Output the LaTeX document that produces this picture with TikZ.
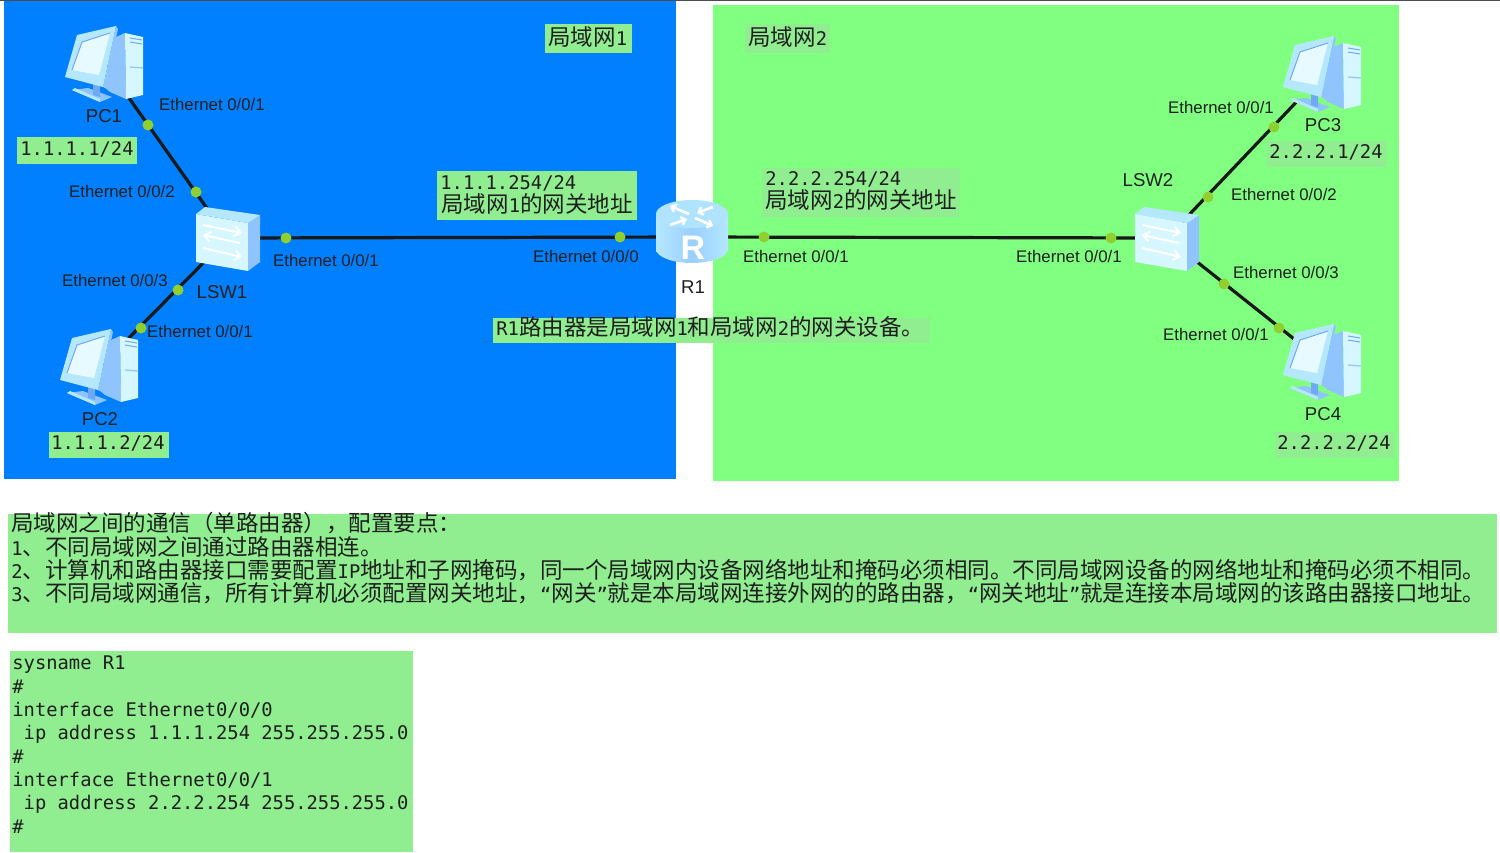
\documentclass[tikz,border=0pt]{standalone}
\usepackage{fontspec}
\setmainfont{Liberation Sans}
\newfontfamily\cjkf{Noto Sans CJK SC}
\newfontfamily\monof{DejaVu Sans Mono}
\usetikzlibrary{arrows.meta}
\newcommand\zhf{\cjkf\fontsize{11.25}{13}\selectfont}
\newcommand\mtxt[1]{{\monof\fontsize{9.4}{11}\selectfont #1}}
\definecolor{lanblue}{HTML}{0080FF}
\definecolor{langreen}{HTML}{80FF80}
\definecolor{notegreen}{HTML}{90EE90}
\definecolor{portdot}{HTML}{8FD030}
\definecolor{iconlight}{HTML}{D6F7FF}
\definecolor{iconmid}{HTML}{8FC4FF}
\definecolor{iconpale}{HTML}{B5E8FF}
\definecolor{iconedge}{HTML}{6FA8F5}
\tikzset{
  x=0.5pt,y=-0.5pt,
  devbox/.style={inner sep=0,minimum size=20pt},
  link/.style={draw=black!90,line width=1.6pt},
  portdotn/.style={circle,fill=portdot,inner sep=0,minimum size=5.5pt},
  eth/.style={inner sep=0,font=\fontsize{8.4}{10}\selectfont,text=black!88},
  devname/.style={inner sep=0,font=\fontsize{9.3}{11}\selectfont,text=black!88},
  zhtxt/.style={inner sep=0,anchor=base west,font=\zhf,text=black!88},
  monotxt/.style={inner sep=0,anchor=base west,font=\monof\fontsize{9.4}{11}\selectfont,text=black!88},
  pccomp/.pic={
    \fill[iconmid] (-33,26)--(-5,38)--(7,33)--(-17,24)--cycle;
    \fill[iconpale] (-33,26)--(-5,38)--(-5,35)--(-30,24)--cycle;
    \fill[iconedge] (-12,18)--(-5,18)--(-5,33)--(-12,31)--cycle;
    \fill[iconmid] (11,-27)--(20,-31)--(21,35)--(5,28)--(-1,23)--cycle;
    \fill[iconlight] (20,-31)--(38,-27)--(38,31)--(21,35)--cycle;
    \draw[iconedge,line width=0.5pt] (25,-26)--(37,-24) (25,-22)--(37,-20);
    \draw[iconmid,line width=0.6pt] (25,3)--(38,4);
    \fill[iconmid] (11,-38)--(13,-35)--(0,24)--(-2,23)--cycle;
    \fill[iconpale] (-40,13)--(-28,-29)--(11,-38)--(-2,23)--cycle;
    \fill[iconlight!60!white] (-33,6)--(-23,-22)--(5,-31)--(-6,11)--cycle;
    \draw[iconedge,line width=0.5pt] (-33,6)--(-23,-22)--(5,-31);
  },
  swcomp/.pic={
    \fill[iconlight] (-32,-24)--(20,-15)--(20,33)--(-32,24)--cycle;
    \fill[iconmid] (20,-15)--(32,-23)--(32,24)--(20,33)--cycle;
    \fill[iconpale] (-32,-24)--(-23,-31)--(32,-23)--(20,-15)--cycle;
    \draw[white,line width=1pt,-{Straight Barb[length=3pt,width=5pt]}] (-25,-13)--(14,-5);
    \draw[white,line width=1pt,-{Straight Barb[length=3pt,width=5pt]}] (12,5)--(-25,-3);
    \draw[white,line width=1pt,-{Straight Barb[length=3pt,width=5pt]}] (-25,10)--(14,19);
  },
  rtcomp/.pic={
    \shade[left color=iconpale,right color=iconpale,middle color=iconmid!70!iconpale] (-36,-23) rectangle (36,12);
    \shade[left color=iconpale,right color=iconpale,middle color=iconmid!70!iconpale] (0,12) ellipse [x radius=36,y radius=14];
    \fill[iconpale!85!iconmid] (0,-23) ellipse [x radius=36,y radius=14];
    \draw[white,line width=1.3pt,-{Straight Barb[length=2pt,width=4pt]}] (-3,-23)--(-22,-31);
    \draw[white,line width=1.3pt,-{Straight Barb[length=2pt,width=4pt]}] (-22,-12)--(-5,-18);
    \draw[white,line width=1.3pt,-{Straight Barb[length=2pt,width=4pt]}] (3,-19)--(21,-11);
    \draw[white,line width=1.3pt,-{Straight Barb[length=2pt,width=4pt]}] (21,-30)--(5,-24);
    \node[inner sep=0,text=white,font=\bfseries\fontsize{17}{19}\selectfont] at (1,11) {R};
  }
}
\begin{document}
\begin{tikzpicture}
\useasboundingbox (0,0) rectangle (1500,852);
\fill[white] (0,0) rectangle (1500,852);
\draw[black!70,line width=0.7pt] (0,0)--(1500,0);
% LAN areas
\fill[lanblue] (4,1) rectangle (676,479);
\fill[langreen] (713,5) rectangle (1399,481);
% devices (anchors)
\node[devbox] (pc1) at (105,64) {};
\node[devbox] (pc2) at (100,367) {};
\node[devbox] (pc3) at (1323,74) {};
\node[devbox] (pc4) at (1323,362) {};
\node[devbox] (lsw1) at (228,238) {};
\node[devbox] (lsw2) at (1167,238) {};
\node[devbox] (r1) at (692,237) {};
% connectors
\draw[link] (pc1.center)--(lsw1.center);
\draw[link] (pc2.center)--(lsw1.center);
\draw[link] (lsw1.center)--(r1.center);
\draw[link] (r1.center)--(lsw2.center);
\draw[link,shorten >=19.5pt] (lsw2.center)--(pc3.center);
\draw[link] (lsw2.center)--(pc4.center);
% icons
\pic at (pc1.center) {pccomp};
\pic at (pc2.center) {pccomp};
\pic at (pc3.center) {pccomp};
\pic at (pc4.center) {pccomp};
\pic at (lsw1.center) {swcomp};
\pic at (lsw2.center) {swcomp};
\pic at (r1.center) {rtcomp};
% port dots
\node[portdotn] (d1) at (148,125) {};
\node[portdotn] (d2) at (196,192) {};
\node[portdotn] (d3) at (286,238) {};
\node[portdotn] (d4) at (620,237) {};
\node[portdotn] (d5) at (178,290) {};
\node[portdotn] (d6) at (141,328) {};
\node[portdotn] (d7) at (764,237) {};
\node[portdotn] (d8) at (1111,238) {};
\node[portdotn] (d9) at (1208,197) {};
\node[portdotn] (d10) at (1274,127) {};
\node[portdotn] (d11) at (1224,284) {};
\node[portdotn] (d12) at (1279,328) {};
% device names
\node[devname] (n1) at (104,116) {PC1};
\node[devname] (n2) at (100,419) {PC2};
\node[devname] (n3) at (1323,125) {PC3};
\node[devname] (n4) at (1323,414) {PC4};
\node[devname] (n5) at (222,292) {LSW1};
\node[devname] (n6) at (1148,180) {LSW2};
\node[devname] (n7) at (693,287) {R1};
% port labels
\node[eth] (e1) at (212,104) {Ethernet 0/0/1};
\node[eth] (e2) at (122,191) {Ethernet 0/0/2};
\node[eth] (e3) at (326,260) {Ethernet 0/0/1};
\node[eth] (e4) at (115,280) {Ethernet 0/0/3};
\node[eth] (e5) at (200,331) {Ethernet 0/0/1};
\node[eth] (e6) at (586,256) {Ethernet 0/0/0};
\node[eth] (e7) at (796,256) {Ethernet 0/0/1};
\node[eth] (e8) at (1069,256) {Ethernet 0/0/1};
\node[eth] (e9) at (1221,107) {Ethernet 0/0/1};
\node[eth] (e10) at (1284,194) {Ethernet 0/0/2};
\node[eth] (e11) at (1286,272) {Ethernet 0/0/3};
\node[eth] (e12) at (1216,334) {Ethernet 0/0/1};
% note backgrounds
\fill[notegreen] (17,137) rectangle (137,164);
\fill[notegreen] (49,432) rectangle (169,458);
\fill[notegreen] (1267,141) rectangle (1387,167);
\fill[notegreen] (1275,432) rectangle (1395,458);
\fill[notegreen] (545,24) rectangle (632,53);
\fill[notegreen] (745,24) rectangle (830,53);
\fill[notegreen] (437,171) rectangle (637,220);
\fill[notegreen] (762,168) rectangle (960,217);
\fill[notegreen] (493,318) rectangle (930,343);
\fill[notegreen] (8,514) rectangle (1497,633);
\fill[notegreen] (10,651) rectangle (413,852);
% notes
\node[monotxt] (t1) at (20,155) {1.1.1.1/24};
\node[monotxt] (t2) at (51,449) {1.1.1.2/24};
\node[monotxt] (t3) at (1269,158) {2.2.2.1/24};
\node[monotxt] (t4) at (1277,449) {2.2.2.2/24};
\node[zhtxt] (t5) at (548,45) {局域网\mtxt{1}};
\node[zhtxt] (t6) at (748,45) {局域网\mtxt{2}};
\node[monotxt] (t7) at (440,189) {1.1.1.254/24};
\node[zhtxt] (t8) at (441,212) {局域网\mtxt{1}的网关地址};
\node[monotxt] (t9) at (765,185) {2.2.2.254/24};
\node[zhtxt] (t10) at (765,208) {局域网\mtxt{2}的网关地址};
\node[zhtxt] (t11) at (496,335) {\mtxt{R1}路由器是局域网\mtxt{1}和局域网\mtxt{2}的网关设备。};
\node[zhtxt] (l1) at (11,531) {局域网之间的通信（单路由器），配置要点：};
\node[zhtxt] (l2) at (11,555) {\mtxt{1}、不同局域网之间通过路由器相连。};
\node[zhtxt] (l3) at (11,578) {\mtxt{2}、计算机和路由器接口需要配置\mtxt{IP}地址和子网掩码，同一个局域网内设备网络地址和掩码必须相同。不同局域网设备的网络地址和掩码必须不相同。};
\node[zhtxt] (l4) at (11,601) {\mtxt{3}、不同局域网通信，所有计算机必须配置网关地址，\mtxt{“}网关\mtxt{”}就是本局域网连接外网的的路由器，\mtxt{“}网关地址\mtxt{”}就是连接本局域网的该路由器接口地址。};
% configuration
\node[monotxt] (c1) at (12,669) {sysname R1};
\node[monotxt] (c2) at (12,693) {\#};
\node[monotxt] (c3) at (12,716) {interface Ethernet0/0/0};
\node[monotxt] (c4) at (12,739) {\ ip address 1.1.1.254 255.255.255.0};
\node[monotxt] (c5) at (12,763) {\#};
\node[monotxt] (c6) at (12,786) {interface Ethernet0/0/1};
\node[monotxt] (c7) at (12,809) {\ ip address 2.2.2.254 255.255.255.0};
\node[monotxt] (c8) at (12,833) {\#};
\end{tikzpicture}
\end{document}
